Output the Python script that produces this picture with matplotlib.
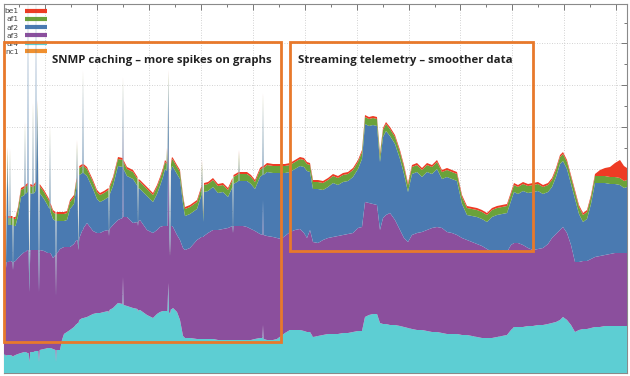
import numpy as np
import matplotlib
matplotlib.use("Agg")
import matplotlib.pyplot as plt
from matplotlib.lines import Line2D
from matplotlib.patches import Rectangle
from matplotlib.ticker import FixedLocator

# sample positions (time) and per-class traffic values (stacked), arbitrary units
t = [4, 5.5, 6, 6.5, 7.5, 8.5, 9.5, 10, 10.5, 12.5,
     13, 13.5, 15.5, 18, 21, 24.5, 25, 25.5, 27.5, 28,
     28.5, 29.4, 30.3, 32.5, 33, 33.5, 35.5, 36, 36.5, 37.4,
     38.3, 39, 39.7, 44, 48, 49.5, 50, 50.5, 53, 55.5,
     56, 56.5, 60, 62, 64, 67, 70, 74, 76.5, 77,
     77.5, 78.4, 79.3, 82.5, 83, 83.5, 87, 93, 97, 100,
     104, 108.5, 109, 109.5, 113, 118, 122.5, 123, 123.5, 127,
     133, 137.5, 138, 138.5, 140, 147, 153, 157, 160, 163,
     165, 166.5, 167, 167.5, 168.3, 169, 170, 171, 172, 173,
     177, 180, 183, 185, 190, 197, 201.5, 202, 202.5, 203.2,
     204, 208, 213, 218, 223, 228, 232.5, 233, 233.5, 237,
     238.5, 239, 239.5, 243, 247, 251, 255, 260, 262.5, 263,
     263.5, 267, 273, 277, 281, 285, 290, 295,
     300, 304, 307, 310, 313, 318, 323, 328, 333, 338,
     343, 348, 353, 358, 362, 365, 369, 373, 377, 380,
     383, 386, 390, 395, 400, 404, 408, 412, 417, 422,
     427, 432, 437, 442, 447, 452, 457, 462, 467, 472,
     477, 482, 487, 492, 497, 502, 507, 511, 514, 518,
     523, 528, 533, 538, 543, 548, 552, 556, 560, 563,
     567, 571, 575, 579, 583, 587, 591, 595, 600, 605,
     610, 615, 620, 624, 627]

af4 = [19, 18, 16, 18, 18, 18, 18, 18, 18, 17,
       16, 17, 18, 19, 20, 21, 21, 21, 20, 20,
       20, 11, 21, 21, 21, 21, 22, 22, 22, 22,
       22, 11, 23, 24, 25, 25, 25, 25, 24, 23,
       11, 23, 23, 33, 39, 41, 43, 46, 49, 49,
       50, 50, 53, 55, 55, 55, 56, 59, 60, 60,
       61, 62, 59, 63, 65, 70, 69, 96, 68, 67,
       65, 64, 61, 63, 63, 58, 55, 59, 61, 62,
       62, 62, 62, 62, 90, 61, 59, 64, 64, 65,
       61, 53, 37, 35, 35, 34, 34, 34, 34, 34,
       34, 34, 34, 33, 33, 33, 33, 33, 33, 33,
       33, 33, 33, 33, 33, 33, 34, 35, 35, 48,
       34, 33, 33, 34, 37, 40, 43, 43,
       43, 42, 41, 41, 36, 37, 38, 39, 39, 39,
       40, 40, 41, 42, 42, 56, 58, 59, 59, 50,
       49, 49, 48, 48, 47, 46, 45, 44, 43, 43,
       42, 41, 41, 40, 39, 39, 39, 38, 38, 37,
       36, 35, 35, 35, 36, 37, 38, 43, 46, 46,
       46, 47, 47, 48, 48, 49, 50, 51, 53, 56,
       53, 48, 41, 43, 44, 44, 45, 46, 46, 47,
       47, 47, 47, 47, 47]

af3 = [92, 93, 89, 93, 93, 93, 94, 94, 94, 94,
       87, 94, 94, 96, 98, 100, 100, 100, 103, 103,
       103, 70, 102, 102, 102, 102, 101, 101, 101, 101,
       101, 70, 100, 98, 95, 95, 95, 95, 91, 95,
       66, 96, 101, 92, 87, 85, 83, 83, 84, 84,
       83, 73, 82, 88, 88, 90, 94, 83, 80, 80,
       81, 81, 78, 81, 83, 83, 86, 157, 88, 89,
       85, 87, 86, 89, 90, 85, 85, 84, 85, 85,
       85, 85, 85, 85, 143, 87, 58, 83, 83, 81,
       77, 80, 88, 88, 90, 99, 102, 102, 102, 102,
       103, 106, 109, 110, 111, 112, 114, 107, 114, 114,
       114, 114, 114, 114, 113, 111, 108, 104, 103, 125,
       104, 104, 103, 101, 97, 97, 98, 100,
       101, 98, 94, 102, 95, 93, 95, 96, 97, 98,
       98, 99, 99, 103, 104, 115, 112, 110, 109, 93,
       106, 109, 112, 105, 96, 89, 86, 94, 97, 98,
       101, 104, 105, 105, 102, 101, 99, 97, 95, 94,
       93, 92, 89, 86, 87, 86, 83, 85, 84, 84,
       82, 78, 76, 76, 77, 80, 85, 88, 90, 90,
       87, 80, 70, 68, 68, 68, 69, 70, 71, 71,
       72, 73, 73, 73, 73]

af2 = [38, 37, 3, 37, 106, 37, 36, 104, 36, 37,
       0, 36, 35, 42, 58, 57, 121, 58, 58, 261,
       58, 9, 57, 56, 138, 56, 59, 261, 60, 141,
       59, 9, 57, 52, 47, 44, 119, 41, 39, 34,
       3, 33, 28, 27, 26, 27, 38, 40, 53, 91,
       56, 0, 63, 57, 151, 55, 47, 42, 34, 31,
       31, 33, 0, 34, 39, 54, 51, 34, 48, 41,
       44, 36, 0, 33, 31, 34, 31, 36, 41, 49,
       57, 55, 69, 54, 61, 51, 0, 55, 60, 60,
       61, 61, 44, 34, 34, 31, 42, 68, 44, 15,
       44, 42, 43, 37, 37, 31, 39, 0, 42, 44,
       45, 67, 45, 45, 46, 45, 42, 57, 60, 98,
       60, 64, 64, 65, 66, 63, 60, 61,
       63, 66, 67, 58, 53, 54, 50, 51, 54, 51,
       53, 53, 56, 59, 68, 78, 77, 79, 79, 68,
       81, 84, 77, 76, 71, 64, 50, 61, 61, 55,
       58, 54, 58, 49, 55, 54, 54, 34, 25, 26,
       27, 27, 27, 35, 35, 36, 39, 44, 51, 49,
       54, 55, 58, 58, 54, 52, 51, 57, 66, 66,
       64, 61, 63, 48, 39, 42, 55, 74, 73, 72,
       70, 69, 68, 65, 66]

af1 = [7, 7, 2, 7, 7, 7, 7, 7, 7, 7,
       2, 7, 7, 7, 7, 7, 7, 7, 7, 7,
       7, 2, 7, 7, 7, 7, 7, 7, 7, 7,
       7, 2, 7, 7, 7, 7, 7, 7, 7, 7,
       2, 7, 7, 7, 7, 7, 7, 7, 7, 7,
       7, 2, 7, 7, 7, 7, 7, 7, 7, 7,
       7, 7, 2, 7, 7, 7, 7, 7, 7, 7,
       7, 7, 2, 7, 7, 7, 7, 7, 7, 7,
       7, 7, 7, 7, 7, 7, 2, 7, 7, 7,
       7, 7, 7, 7, 7, 7, 7, 7, 7, 7,
       7, 7, 7, 7, 7, 7, 7, 2, 7, 7,
       7, 7, 7, 7, 7, 7, 7, 7, 7, 7,
       7, 7, 7, 7, 7, 7, 7, 7,
       7, 7, 7, 7, 7, 7, 7, 7, 7, 7,
       7, 7, 7, 7, 7, 7, 7, 7, 7, 7,
       7, 7, 7, 7, 7, 7, 7, 7, 7, 7,
       7, 7, 7, 7, 7, 7, 7, 7, 7, 7,
       7, 7, 7, 7, 7, 7, 7, 7, 7, 7,
       7, 7, 7, 7, 7, 7, 7, 7, 7, 7,
       7, 7, 7, 7, 7, 7, 7, 7, 7, 7,
       7, 7, 7, 7, 7]

be1 = [2, 2, 1, 2, 2, 2, 2, 2, 2, 2,
       1, 2, 2, 2, 2, 2, 2, 2, 2, 2,
       2, 1, 2, 2, 2, 2, 2, 2, 2, 2,
       2, 1, 2, 2, 2, 2, 2, 2, 2, 2,
       1, 2, 2, 2, 2, 2, 2, 2, 2, 2,
       2, 1, 2, 2, 2, 2, 2, 2, 2, 2,
       2, 2, 1, 2, 2, 2, 2, 2, 2, 2,
       2, 2, 1, 2, 2, 2, 2, 2, 2, 2,
       2, 2, 2, 2, 2, 2, 1, 2, 2, 2,
       2, 2, 2, 2, 2, 2, 2, 2, 2, 2,
       2, 2, 2, 2, 2, 2, 2, 1, 2, 2,
       2, 2, 2, 2, 2, 2, 2, 2, 2, 2,
       2, 2, 2, 2, 2, 2, 2, 2,
       2, 2, 2, 2, 2, 2, 2, 2, 2, 2,
       2, 2, 2, 2, 2, 2, 2, 2, 2, 2,
       2, 2, 2, 2, 2, 2, 2, 2, 2, 2,
       2, 2, 2, 2, 2, 2, 2, 2, 2, 2,
       2, 2, 2, 2, 2, 2, 2, 2, 2, 2,
       2, 2, 2, 2, 2, 2, 2, 2, 2, 2,
       2, 2, 2, 2, 2, 2, 2, 2, 6, 8,
       10, 14, 18, 15, 12]

nc1 = [0] * len(t)

classes = ["af4", "af3", "af2", "af1", "be1", "nc1"]
colors = {"be1": "#ee3b24", "af1": "#6aa23a", "af2": "#4a7ab1",
          "af3": "#8b4f9d", "af4": "#5dced3", "nc1": "#f0902f"}
legend_order = ["be1", "af1", "af2", "af3", "af4", "nc1"]

annot1 = "SNMP caching – more spikes on graphs"
annot2 = "Streaming telemetry – smoother data"

fig = plt.figure(figsize=(6.3, 3.76), dpi=100)
ax = fig.add_axes([4 / 630, 3 / 376, 623 / 630, 369 / 376])

series = [af4, af3, af2, af1, be1, nc1]
ax.stackplot(t, *series, colors=[colors[c] for c in classes],
             linewidth=0, zorder=4)

ax.set_xlim(4, 627)
ax.set_ylim(0, 369)

ax.xaxis.set_major_locator(FixedLocator(np.arange(45.3, 627, 51.9)))
ax.xaxis.set_minor_locator(FixedLocator(np.arange(19.35, 627, 51.9)))
ax.yaxis.set_major_locator(FixedLocator(np.arange(37, 369, 41.8)))
ax.yaxis.set_minor_locator(FixedLocator(np.arange(16.1, 369, 41.8)))
ax.xaxis.set_ticks_position("top")
ax.yaxis.set_ticks_position("right")
ax.tick_params(which="both", direction="in", colors="#777777", labeltop=False,
               labelbottom=False, labelleft=False, labelright=False)
ax.tick_params(which="major", length=4, width=0.7)
ax.tick_params(which="minor", length=2.5, width=0.7)
for s in ax.spines.values():
    s.set_color("#8a8a8a")
    s.set_linewidth(0.8)
ax.set_axisbelow(True)
ax.grid(which="major", linestyle=(0, (1, 2)), color="#c4c4c4", linewidth=0.6)

handles = [Line2D([], [], color=colors[c], linewidth=3.0, solid_capstyle="butt")
           for c in legend_order]
leg = ax.legend(handles, legend_order, loc="upper left", frameon=False,
                bbox_to_anchor=(0.5 / 623, 1 - 4.0 / 369),
                fontsize=5.4, markerfirst=False, handlelength=3.0, handletextpad=0.8,
                labelspacing=0.25, borderpad=0.0, borderaxespad=0.0,
                labelcolor="#444444")
leg.set_zorder(3)

orange = "#e8792b"
ax.add_patch(Rectangle((4, 31), 277, 300, fill=False, edgecolor=orange,
                       linewidth=2.0, zorder=10, clip_on=False))
ax.add_patch(Rectangle((290, 122), 243, 209, fill=False, edgecolor=orange,
                       linewidth=2.0, zorder=10, clip_on=False))

ax.text(162, 313, annot1, ha="center", va="center", fontsize=8.2,
        family="Open Sans", fontweight="bold", color="#222222", zorder=11)
ax.text(405.5, 313, annot2, ha="center", va="center", fontsize=8.2,
        family="Open Sans", fontweight="bold", color="#222222", zorder=11)

fig.savefig("out.png", dpi=100)
